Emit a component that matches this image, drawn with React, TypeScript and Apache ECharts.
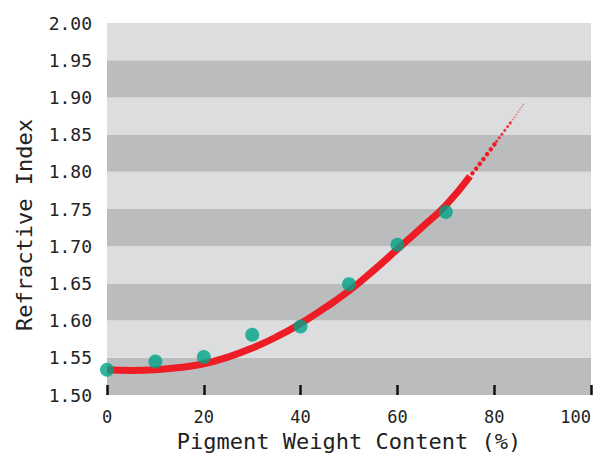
import React, { useEffect, useRef } from "react";
import * as echarts from "echarts";

// Measured pigment data (x: weight %, y: refractive index)
const measuredX = [0, 10, 20, 30, 40, 50, 60, 70];
const measuredY = [1.534, 1.545, 1.551, 1.581, 1.592, 1.649, 1.702, 1.746];

// Fitted curve (solid part)
const fitX = [0, 5, 10, 15, 20, 25, 30, 35, 40, 45, 50, 55, 60, 65, 70, 75];
const fitY = [1.534, 1.533, 1.534, 1.537, 1.542, 1.551, 1.563, 1.578, 1.596, 1.617, 1.640, 1.667, 1.696, 1.725, 1.755, 1.794];

// Extrapolated dotted part, split into tapering pieces
const extA_X = [75.5, 78, 80.5];
const extA_Y = [1.798, 1.819, 1.841];
const extB_X = [80.5, 83.5];
const extB_Y = [1.841, 1.867];
const extC_X = [83.5, 86.2];
const extC_Y = [1.867, 1.892];

const xTicks = [0, 20, 40, 60, 80, 100];
const yMin = 1.5;
const yMax = 2.0;
const yStep = 0.05;

const xName = "Pigment Weight Content (%)";
const yName = "Refractive Index";

const FONT = "DejaVu Sans Mono";

function pairs(xs: number[], ys: number[]) {
  return xs.map((x, i) => [x, ys[i]]);
}

export default function App() {
  const ref = useRef<HTMLDivElement>(null);

  useEffect(() => {
    document.body.style.margin = "0";
    if (!ref.current) return;
    const chart = echarts.init(ref.current, null, { renderer: "svg" });
    chart.setOption({
      animation: false,
      backgroundColor: "#ffffff",
      grid: {
        left: 107,
        right: 9,
        top: 23,
        bottom: 62,
        containLabel: false,
        outerBoundsMode: "none",
      },
      xAxis: {
        type: "value",
        min: 0,
        max: 100,
        interval: 20,
        axisLine: { show: false },
        axisTick: {
          show: true,
          inside: true,
          length: 10,
          lineStyle: { color: "#111", width: 2.5 },
        },
        splitLine: { show: false },
        axisLabel: {
          color: "#222",
          fontFamily: FONT,
          fontSize: 17,
          margin: 13,
          alignMaxLabel: "right",
          formatter: (v: number) => (xTicks.includes(v) ? String(v) : ""),
        },
        name: xName,
        nameLocation: "middle",
        nameGap: 35,
        nameTextStyle: { color: "#222", fontFamily: FONT, fontSize: 22 },
      },
      yAxis: {
        type: "value",
        min: yMin,
        max: yMax,
        interval: yStep,
        axisLine: { show: false },
        axisTick: { show: false },
        splitLine: { show: false },
        splitArea: {
          show: true,
          areaStyle: { color: ["#bbbcbe", "#dcdddf"] },
        },
        axisLabel: {
          color: "#222",
          fontFamily: FONT,
          fontSize: 18,
          margin: 15,
          formatter: (v: number) => v.toFixed(2),
        },
      },
      graphic: [
        {
          type: "text",
          x: 24,
          y: 225,
          rotation: Math.PI / 2,
          style: {
            text: yName,
            fill: "#222",
            font: `22px "${FONT}"`,
            textAlign: "center",
            textVerticalAlign: "middle",
          },
        },
      ],
      series: [
        {
          type: "line",
          data: pairs(fitX, fitY),
          smooth: 0.5,
          showSymbol: false,
          lineStyle: { color: "#ee1c25", width: 7 },
          z: 2,
        },
        {
          type: "line",
          data: pairs(extA_X, extA_Y),
          smooth: true,
          showSymbol: false,
          lineStyle: { color: "#ee1c25", width: 4.5, type: [0.01, 6], cap: "round" },
          z: 2,
        },
        {
          type: "line",
          data: pairs(extB_X, extB_Y),
          smooth: true,
          showSymbol: false,
          lineStyle: { color: "#ee1c25", width: 3, type: [0.01, 4.5], cap: "round", opacity: 0.85 },
          z: 2,
        },
        {
          type: "line",
          data: pairs(extC_X, extC_Y),
          smooth: true,
          showSymbol: false,
          lineStyle: { color: "#ee1c25", width: 1.8, type: [0.01, 3], cap: "round", opacity: 0.5 },
          z: 2,
        },
        {
          type: "scatter",
          data: pairs(measuredX, measuredY),
          symbol: "circle",
          symbolSize: 14,
          itemStyle: { color: "#00a487" },
          z: 3,
        },
      ],
    });
    return () => chart.dispose();
  }, []);

  return <div ref={ref} style={{ width: 600, height: 457 }} />;
}
